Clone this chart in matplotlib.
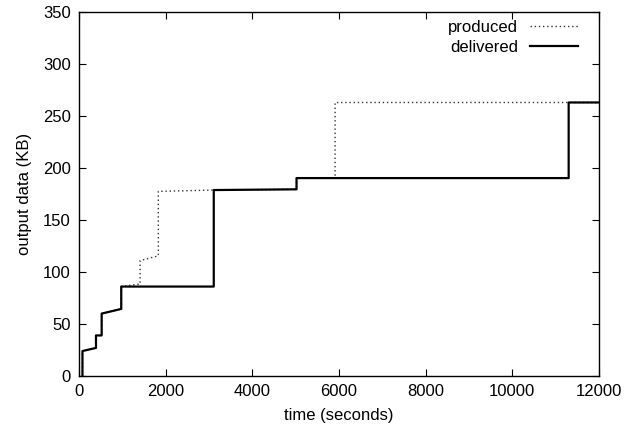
import matplotlib
matplotlib.use("Agg")
import matplotlib.pyplot as plt

plt.rcParams['font.family'] = ['Liberation Sans', 'DejaVu Sans']

# delivered curve (time s, KB)
delivered_t = [80, 80, 392, 392, 523, 523, 975, 975, 3110, 3110, 5020, 5020, 11300, 11300, 12000]
delivered_y = [0, 24, 27, 39, 39, 60, 64.5, 86, 86, 178.8, 179.5, 190.3, 190.3, 263, 263]

# produced curve
produced_t = [80, 80, 392, 392, 523, 523, 975, 975, 1410, 1410, 1830, 1830, 3110, 5020, 5020, 5910, 5910, 12000]
produced_y = [0, 24, 27, 39, 39, 60, 64.5, 86, 88.5, 111, 115.5, 177.5, 178.8, 179.5, 190.3, 190.3, 263, 263]

x_ticks = [0, 2000, 4000, 6000, 8000, 10000, 12000]
y_ticks = [0, 50, 100, 150, 200, 250, 300, 350]

fig = plt.figure(figsize=(6.26, 4.32), dpi=100)
ax = fig.add_axes([79/626, 56/432, 520/626, 364/432])

ax.plot(produced_t, produced_y, color='#333333', lw=1.0, linestyle=(0, (1, 2)), label='produced')
ax.plot(delivered_t, delivered_y, color='black', lw=1.6, label='delivered')

ax.set_xlim(0, 12000)
ax.set_ylim(0, 350)
ax.set_xticks(x_ticks)
ax.set_yticks(y_ticks)
ax.tick_params(direction='in', length=5, width=0.8, top=True, right=True, labelsize=12, pad=6)
for s in ax.spines.values():
    s.set_linewidth(1.0)

ax.set_xlabel('time (seconds)', fontsize=12, labelpad=6)
ax.set_ylabel('output data (KB)', fontsize=12, labelpad=8)

leg = ax.legend(loc='upper right', bbox_to_anchor=(0.973, 0.997), frameon=False, fontsize=12,
                markerfirst=False, handlelength=2.9, labelspacing=0.3, borderaxespad=0.0,
                handletextpad=0.7)
for t in leg.get_texts():
    t.set_ha('right')

fig.savefig('out.png', dpi=100)
